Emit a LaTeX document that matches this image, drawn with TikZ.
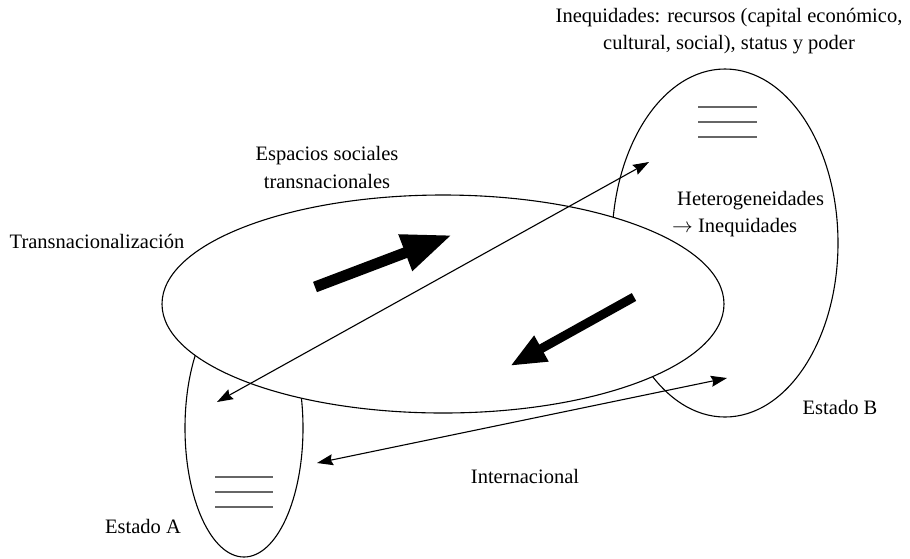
\documentclass[tikz,border=0pt]{standalone}
\usepackage{fontspec}
\setmainfont{Liberation Serif}
\usetikzlibrary{shapes.geometric,arrows.meta}
\tikzset{
  ell/.style={draw=black, line width=1.1pt, ellipse, inner sep=0pt, outer sep=0pt},
  bar/.style={draw=black!60, line width=2pt},
  thin/.style={draw=black, line width=1.1pt, {Stealth[length=16pt,width=11pt,inset=2pt]}-{Stealth[length=16pt,width=11pt,inset=2pt]}},
  lbl/.style={inner sep=0pt, anchor=base, font=\fontsize{20.5}{25}\selectfont},
}
\begin{document}
\begin{tikzpicture}[x=1pt,y=-1pt]
\useasboundingbox (0,0) rectangle (910,558);
% state ellipses
\node[ell, minimum width=118pt, minimum height=258pt] (estA) at (244,428) {};
\node[ell, minimum width=226pt, minimum height=348pt] (estB) at (725,243) {};
% bars
\draw[bar] (215,477) -- (273,477);
\draw[bar] (215,492) -- (273,492);
\draw[bar] (215,507) -- (273,507);
\draw[bar] (698,107) -- (757,107);
\draw[bar] (698,122) -- (757,122);
\draw[bar] (698,137) -- (757,137);
% big ellipse
\node[ell, fill=white, minimum width=562pt, minimum height=218pt] (big) at (443,304) {};
% thin double arrows
\coordinate (a1) at (217,402);
\coordinate (b1) at (649,162);
\coordinate (a2) at (317,463);
\coordinate (b2) at (727,378);
\draw[thin] (a1) -- (b1);
\draw[thin] (a2) -- (b2);
% thick arrows
\coordinate (t1) at (315,287);
\coordinate (h1) at (452,235);
\coordinate (t2) at (634,297);
\coordinate (h2) at (510,366);
\draw[line width=11pt, -{Triangle[length=50pt,width=36pt]}] (t1) -- (h1);
\draw[line width=9pt, -{Triangle[length=36pt,width=27pt]}] (t2) -- (h2);
% labels
\node[lbl] (l1) at (729,22) {Inequidades: recursos (capital económico,};
\node[lbl] (l2) at (729,49) {cultural, social), status y poder};
\node[lbl] (l3) at (327,160) {Espacios sociales};
\node[lbl] (l4) at (327,188) {transnacionales};
\node[lbl] (l5) at (97,248) {Transnacionalización};
\node[lbl, anchor=base west] (l6) at (677,205) {Heterogeneidades};
\node[lbl, anchor=base west] (l7) at (672,232) {$\rightarrow$ Inequidades};
\node[lbl] (l8) at (840,414) {Estado B};
\node[lbl] (l9) at (525,483) {Internacional};
\node[lbl] (l10) at (143,533) {Estado A};
\end{tikzpicture}
\end{document}
